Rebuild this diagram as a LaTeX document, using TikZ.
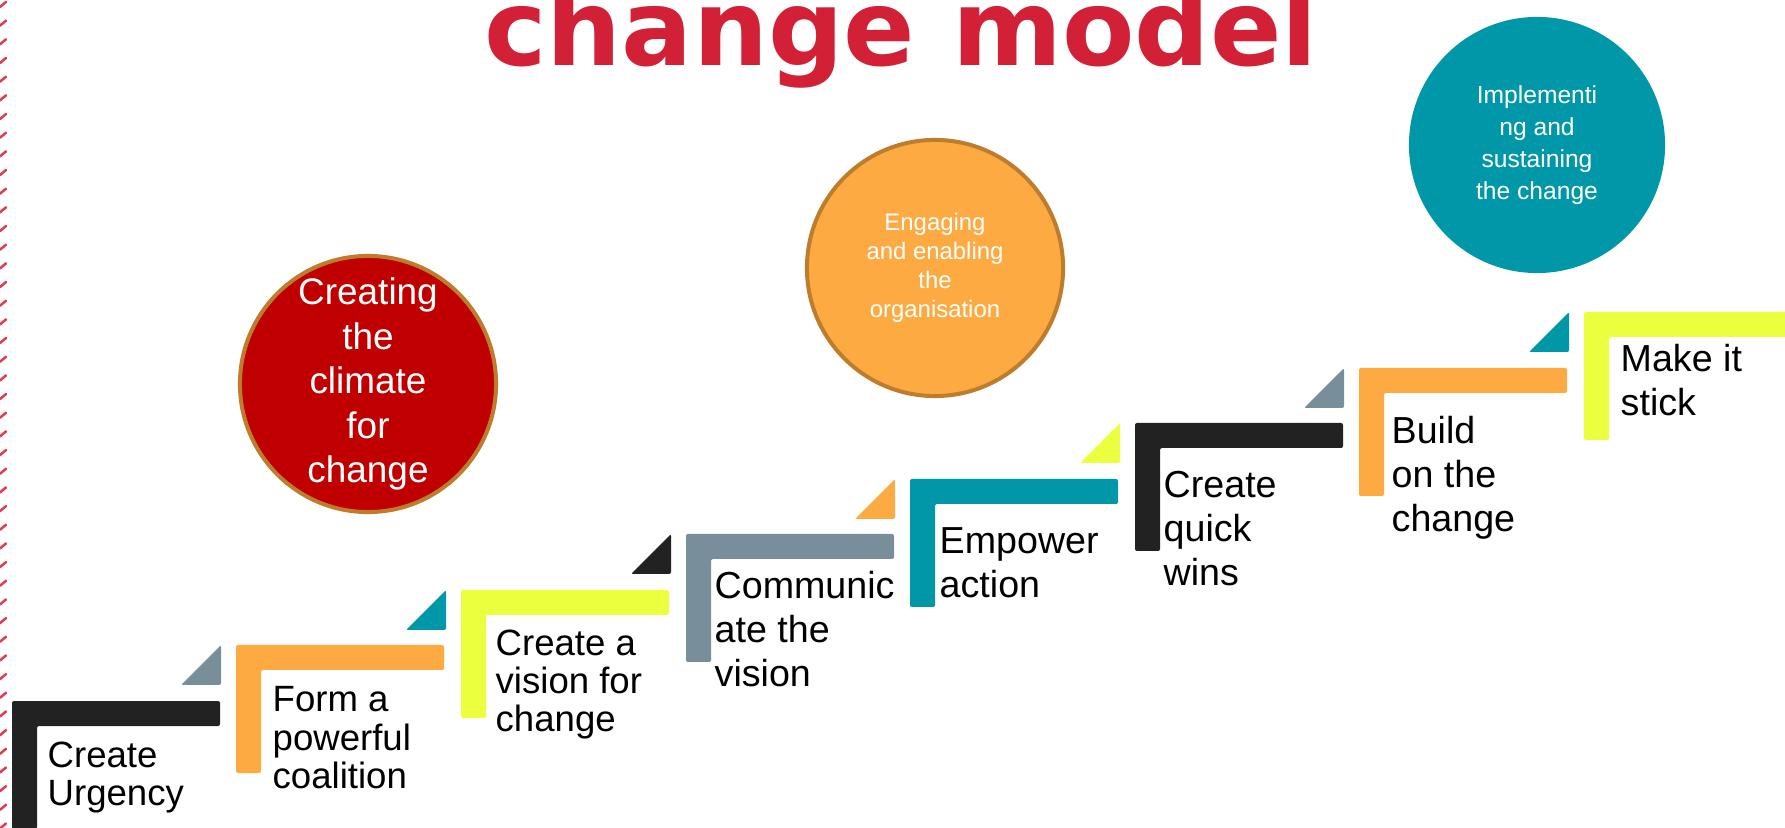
\documentclass[tikz,border=0pt]{standalone}
\usepackage{fontspec}
\setmainfont{Liberation Sans}
\newfontfamily\headfont{DejaVu Sans}
\definecolor{stepblack}{RGB}{34,34,34}
\definecolor{steporange}{RGB}{254,170,66}
\definecolor{stepyellow}{RGB}{236,255,62}
\definecolor{stepgrey}{RGB}{120,142,155}
\definecolor{stepteal}{RGB}{0,152,168}
\definecolor{climred}{RGB}{192,0,0}
\definecolor{rimbrown}{RGB}{190,125,45}
\definecolor{titlered}{RGB}{210,32,55}
\definecolor{tickred}{RGB}{225,60,80}
\tikzset{
  steplabel/.style={anchor=north west, inner sep=0pt, align=left,
    font=\fontsize{10.4}{10.9}\selectfont},
  steplabelwide/.style={steplabel, font=\fontsize{10.7}{12.5}\selectfont},
  stage/.style={circle, minimum size=2.56cm, inner sep=0pt, align=center, text=white},
  edgetick/.style={tickred, line width=0.025cm, line cap=round}
}
% one L shaped step: name, left, top, colour, label options, label
\def\ChangeStep#1#2#3#4#5#6{
  \begin{scope}[shift={(#2,#3)}]
    \fill[#4, rounded corners=0.02cm] (0,0) -- (208,0) -- (208,25) -- (25,25)
      -- (25,128) -- (0,128) -- cycle;
    \node[#5] (#1) {#6};
  \end{scope}
}
% small corner triangle in front of a step: left, top, colour
\def\StepTip#1#2#3{
  \begin{scope}[shift={(#1,#2)}]
    \fill[#3, rounded corners=0.02cm] (-15,0) -- (-15,40) -- (-55,40) -- cycle;
  \end{scope}
}

\begin{document}
\begin{tikzpicture}[x=0.01cm, y=-0.01cm]
    \fill[white] (0,0) rectangle (1785,828);
    \useasboundingbox (0,0) rectangle (1785,828);
    \foreach \k in {0,...,44}
      \draw[edgetick] (0,18.67*\k+7) -- (6,18.67*\k+2);

    \node[font=\headfont\bfseries\fontsize{30}{36}\selectfont, text=titlered, anchor=base]
      (title) at (901,66) {change model};

    \ChangeStep{urgency}{12}{701}{stepblack}{steplabel, at={(35,40)}}{Create\\Urgency}
    \ChangeStep{coalition}{236}{645}{steporange}{steplabel, at={(36,41)}}{Form a\\powerful\\coalition}
    \ChangeStep{vision}{461}{590}{stepyellow}{steplabel, at={(34,39)}}{Create a\\vision for\\change}
    \ChangeStep{communicate}{686}{534}{stepgrey}{steplabelwide, at={(28,37)}}{Communic\\ate the\\vision}
    \ChangeStep{empower}{910}{479}{stepteal}{steplabelwide, at={(29,48)}}{Empower\\action}
    \ChangeStep{wins}{1135}{423}{stepblack}{steplabelwide, at={(28,48)}}{Create\\quick\\wins}
    \ChangeStep{build}{1359}{368}{steporange}{steplabelwide, at={(32,48)}}{Build\\on the\\change}
    \ChangeStep{stick}{1584}{312}{stepyellow}{steplabelwide, at={(36,32)}}{Make it\\stick}

    \StepTip{236}{645}{stepgrey}
    \StepTip{461}{590}{stepteal}
    \StepTip{686}{534}{stepblack}
    \StepTip{910}{479}{steporange}
    \StepTip{1135}{423}{stepyellow}
    \StepTip{1359}{368}{stepgrey}
    \StepTip{1584}{312}{stepteal}

    \node[stage, fill=climred, draw=rimbrown, line width=0.04cm,
      font=\fontsize{10.5}{12.66}\selectfont] (climate) at (368,384)
      {Creating\\the\\climate\\for\\change};
    \node[stage, fill=steporange, draw=rimbrown, line width=0.04cm,
      font=\fontsize{6.8}{8.25}\selectfont] (engage) at (935,268)
      {Engaging\\and enabling\\the\\organisation};
    \node[stage, fill=stepteal, font=\fontsize{7}{9.1}\selectfont] (sustain) at (1537,145)
      {Implementi\\ng and\\sustaining\\the change};
  \end{tikzpicture}
\end{document}
